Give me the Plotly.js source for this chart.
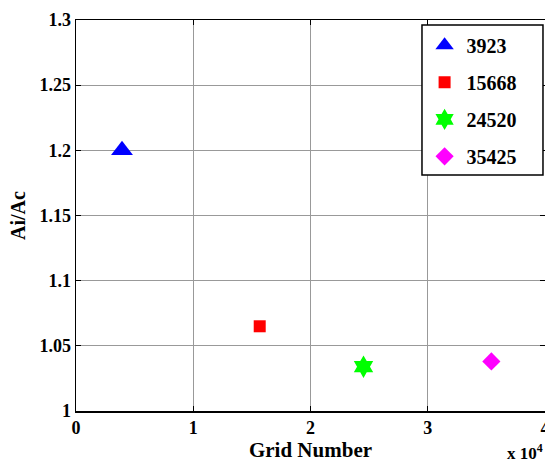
<!DOCTYPE html>
<html><head><meta charset="utf-8">
<script src="https://cdn.plot.ly/plotly-3.0.1.min.js"></script>
<style>html,body{margin:0;padding:0;background:#fff}</style>
</head><body><div id="plot" style="width:545px;height:463px"></div>
<script>
const names = ['3923','15668','24520','35425'];
const gridX = [0.3923, 1.5668, 2.4520, 3.5425];   // x 10^4
const ratio = [1.200, 1.065, 1.034, 1.038];
const symbols = ['triangle-up','square','hexagram','diamond'];
const colors = ['#0000ff','#ff0000','#00ff00','#ff00ff'];
const sizes = [19, 12, 17, 14];
const xTicks = [0,1,2,3,4];
const yTicks = [1,1.05,1.1,1.15,1.2,1.25,1.3];

const FAM = 'Liberation Serif, Times New Roman, serif';
function f(size){ return {family:FAM, size:size, weight:700, color:'#000'}; }
const traces = names.map((n,i)=>({
  x:[gridX[i]], y:[ratio[i]], name:n, type:'scatter', mode:'markers',
  legendgroup:'g'+i,
  marker:{symbol:symbols[i], color:colors[i], size:sizes[i], line:{width:0}}
}));
const axisCommon = {showline:true, linecolor:'#000', linewidth:1.5, mirror:'ticks',
  ticks:'inside', ticklen:5, tickcolor:'#000', showgrid:true, gridcolor:'#999', gridwidth:1,
  zeroline:false, tickfont:f(18), ticklabeloverflow:'allow'};
const layout = {
  width:545, height:463, margin:{l:76, r:0, t:20, b:52},
  paper_bgcolor:'#fff', plot_bgcolor:'#fff', showlegend:true,
  font:f(16),
  xaxis:Object.assign({}, axisCommon, {range:[0,4], tickvals:xTicks, ticktext:xTicks.map(String),
    title:{text:'Grid Number', font:f(21), standoff:2}}),
  yaxis:Object.assign({}, axisCommon, {range:[1,1.3], tickvals:yTicks, ticktext:yTicks.map(String),
    title:{text:'Ai/Ac', font:f(20), standoff:8}}),
  legend:{x:0.739, y:0.985, xanchor:'left', yanchor:'top', bgcolor:'rgba(0,0,0,0)',
    borderwidth:0, tracegroupgap:8, itemwidth:34, font:f(20)},
  shapes:[{type:'rect', xref:'paper', yref:'paper', x0:0.7377, x1:0.9957, y0:0.6036, y1:0.987,
    fillcolor:'#fff', line:{color:'#000', width:1.5}, layer:'above'}],
  annotations:[{xref:'paper', yref:'paper', x:1.0, y:-0.072, xanchor:'right', yanchor:'top',
    text:'x 10<sup>4</sup>', showarrow:false, font:f(17)}]
};
Plotly.newPlot('plot', traces, layout, {displayModeBar:false, staticPlot:true});
</script></body></html>
